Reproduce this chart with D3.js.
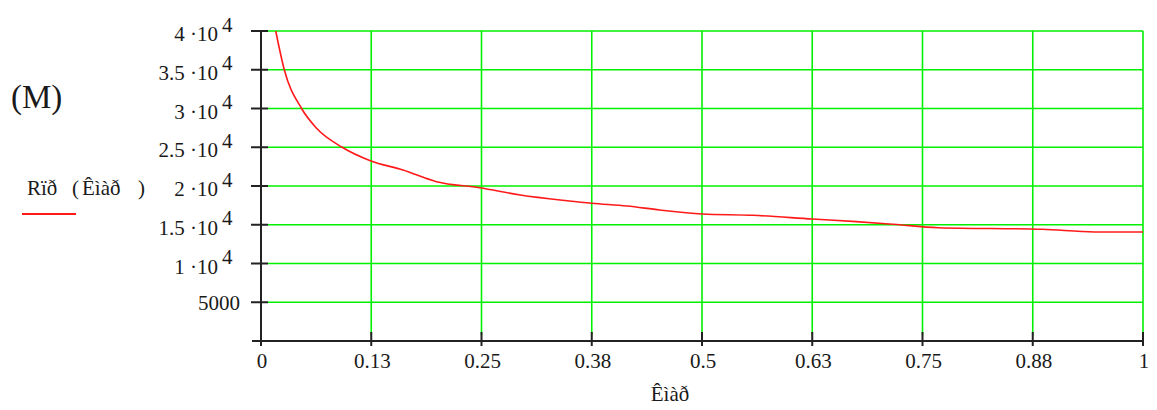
<!DOCTYPE html>
<html>
<head>
<meta charset="utf-8">
<script src="https://cdn.jsdelivr.net/npm/d3@7"></script>
<style>
  html, body { margin: 0; padding: 0; background: #fff; }
  svg { display: block; }
  text { font-family: "Liberation Serif", "Times New Roman", serif; fill: #1a1a1a; }
</style>
</head>
<body>
<svg id="chart" width="1157" height="410"></svg>
<script>
// Curve R(k): abscissa values and corresponding resistance values
const kValues = [0.0167, 0.0264, 0.046, 0.063, 0.092, 0.124, 0.161, 0.199, 0.248, 0.294,
                 0.347, 0.375, 0.415, 0.452, 0.50, 0.558, 0.625, 0.675, 0.717, 0.768,
                 0.886, 0.945, 1.0];
const rValues = [40000, 35000, 30000, 27450, 25000, 23260, 22060, 20550, 19780, 18840,
                 18100, 17770, 17420, 16900, 16390, 16220, 15740, 15400, 15060, 14620,
                 14410, 14070, 14070];

// Axis ticks and their labels
const xTicks = [0, 0.125, 0.25, 0.375, 0.5, 0.625, 0.75, 0.875, 1];
const xTickLabels = ["0", "0.13", "0.25", "0.38", "0.5", "0.63", "0.75", "0.88", "1"];
const yTicks = [5000, 10000, 15000, 20000, 25000, 30000, 35000, 40000];
const yTickMantissas = ["5000", "1", "1.5", "2", "2.5", "3", "3.5", "4"];
const yTickExponents = ["", "4", "4", "4", "4", "4", "4", "4"];

const svg = d3.select("#chart");
const x = d3.scaleLinear().domain([0, 1]).range([261, 1143]);
const y = d3.scaleLinear().domain([0, 40000]).range([341, 31]);
const fs = 21;

// Grid
const grid = svg.append("g").attr("stroke", "#00f000").attr("stroke-width", 1.6);
yTicks.forEach(v => {
  grid.append("line").attr("x1", x(0) + 7).attr("x2", x(1))
    .attr("y1", y(v)).attr("y2", y(v));
});
xTicks.slice(1).forEach(v => {
  grid.append("line").attr("x1", x(v)).attr("x2", x(v))
    .attr("y1", y(40000)).attr("y2", y(0) - 6);
});

// Axes with crossing ticks
const axes = svg.append("g").attr("stroke", "#222").attr("stroke-width", 2);
axes.append("line").attr("x1", x(0)).attr("x2", x(0)).attr("y1", y(40000) - 1).attr("y2", y(0) + 4);
axes.append("line").attr("x1", x(0) - 9).attr("x2", x(1)).attr("y1", y(0)).attr("y2", y(0));
yTicks.forEach(v => {
  axes.append("line").attr("x1", x(0) - 10).attr("x2", x(0) + 7).attr("y1", y(v)).attr("y2", y(v));
});
xTicks.forEach(v => {
  axes.append("line").attr("x1", x(v)).attr("x2", x(v)).attr("y1", y(0) - 9).attr("y2", y(0) + 5);
});

// Y tick labels (mantissa ·10 with superscript exponent)
yTicks.forEach((v, i) => {
  if (yTickExponents[i] === "") {
    svg.append("text").attr("x", 240).attr("y", y(v) + 8)
      .attr("text-anchor", "end").attr("font-size", fs).text(yTickMantissas[i]);
  } else {
    svg.append("text").attr("x", 218).attr("y", y(v) + 10)
      .attr("text-anchor", "end").attr("font-size", fs)
      .text(yTickMantissas[i] + " \u00B710");
    svg.append("text").attr("x", 222).attr("y", y(v) + 0.5)
      .attr("font-size", fs).text(yTickExponents[i]);
  }
});

// X tick labels
xTicks.forEach((v, i) => {
  svg.append("text").attr("x", x(v) + 1).attr("y", y(0) + 27)
    .attr("text-anchor", "middle").attr("font-size", fs).text(xTickLabels[i]);
});

// Axis titles
svg.append("text").attr("x", 670).attr("y", 401).attr("text-anchor", "middle")
  .attr("font-size", fs).text("Êìàð");
svg.append("text").attr("x", 11).attr("y", 108).attr("font-size", 33).text("(M)");
const ylab = svg.append("g").attr("font-size", fs);
ylab.append("text").attr("x", 27).attr("y", 195).text("Rïð");
ylab.append("text").attr("x", 72).attr("y", 195).text("(");
ylab.append("text").attr("x", 82).attr("y", 195).text("Êìàð");
ylab.append("text").attr("x", 138).attr("y", 195).text(")");

// Legend swatch
svg.append("line").attr("x1", 22).attr("x2", 76).attr("y1", 214).attr("y2", 214)
  .attr("stroke", "#ff1a1a").attr("stroke-width", 2);

// Curve
const line = d3.line().x((d, i) => x(kValues[i])).y(d => y(d)).curve(d3.curveMonotoneX);
svg.append("path").datum(rValues).attr("d", line)
  .attr("fill", "none").attr("stroke", "#ff1a1a").attr("stroke-width", 1.6);
</script>
</body>
</html>
